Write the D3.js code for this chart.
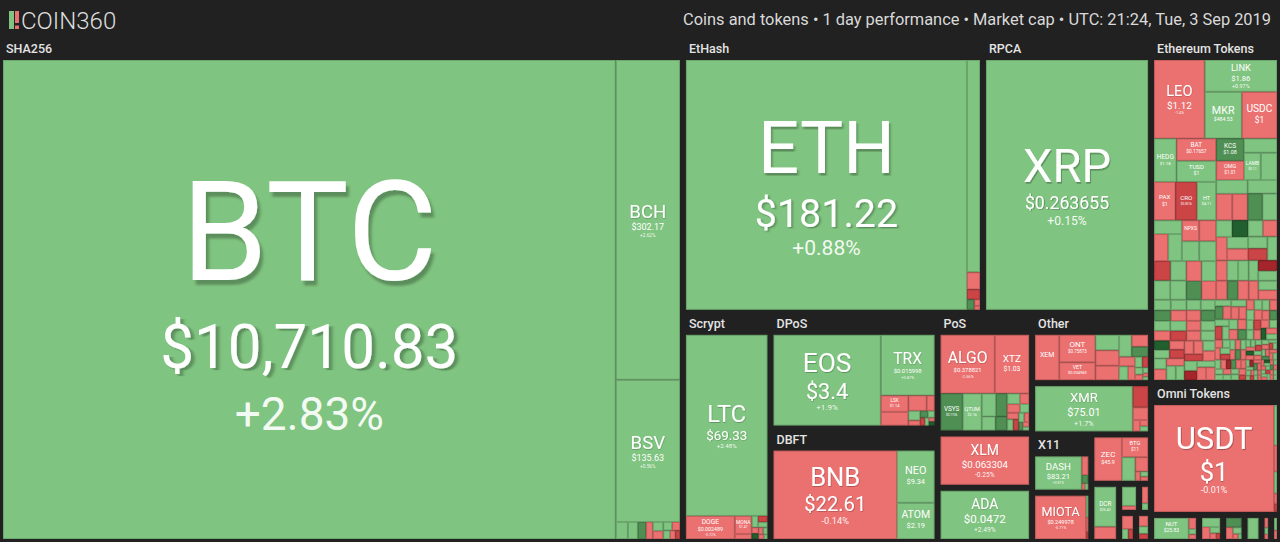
<!DOCTYPE html>
<html>
<head>
<meta charset="utf-8">
<script src="https://cdn.jsdelivr.net/npm/d3@7"></script>
<style>
  html, body { margin: 0; padding: 0; background: #212121; }
  svg { display: block; font-family: Roboto, "Noto Sans", sans-serif; }
</style>
</head>
<body>
<svg id="chart" width="1280" height="542"></svg>
<script>
// coin360 treemap, 3 Sep 2019 - tile weights (area units)

const headerText = 'Coins and tokens \u2022 1 day performance \u2022 Market cap \u2022 UTC: 21:24, Tue, 3 Sep 2019';

// groups that show their name above the tiles
const labeledGroups = ['SHA256', 'EtHash', 'RPCA', 'Scrypt', 'DPoS', 'DBFT', 'PoS', 'Other', 'X11', 'Ethereum Tokens', 'Omni Tokens'];

// how the groups sit next to / under each other
const layoutTree = ['SHA256', [
  [['EtHash', 'RPCA'],
   ['Scrypt', ['DPoS', 'DBFT'], ['PoS', 'SCP', 'Ouroboros'],
    ['Other', 'CryptoNight', [['X11', 'Tangle'], ['Equihash', ['Blake256', [['X13', 'misc-a'], ['misc-b', 'misc-c']]]]]]]],
  ['Ethereum Tokens', 'Omni Tokens', ['omni-a', 'omni-b', 'omni-c', 'omni-d', 'omni-e', 'omni-f']]
]];

// named coins
const coinSymbols = ['BTC', 'BCH', 'BSV', 'ETH', 'ETC', 'XRP', 'LTC', 'DOGE', 'MONA', 'EOS', 'TRX', 'LSK', 'BNB', 'NEO', 'ATOM',
  'ALGO', 'XTZ', 'VSYS', 'QTUM', 'WAVES', 'XLM', 'ADA', 'XEM', 'ONT', 'VET', 'RVN', 'XMR', 'DASH', 'MIOTA', 'ZEC', 'BTG', 'DCR', 'BCD',
  'LEO', 'LINK', 'MKR', 'USDC', 'HEDG', 'BAT', 'TUSD', 'PAX', 'CRO', 'HT', 'KCS', 'OMG', 'LAMB', 'HOT', 'REP', 'DGT', 'NPXS', 'AOA',
  'USDT', 'NUT'];
const coinGroups = ['SHA256', 'SHA256', 'SHA256', 'EtHash', 'EtHash', 'RPCA', 'Scrypt', 'Scrypt', 'Scrypt', 'DPoS', 'DPoS', 'DPoS', 'DBFT', 'DBFT', 'DBFT',
  'PoS', 'PoS', 'PoS', 'PoS', 'PoS', 'SCP', 'Ouroboros', 'Other', 'Other', 'Other', 'Other', 'CryptoNight', 'X11', 'Tangle', 'Equihash', 'Equihash', 'Blake256', 'X13',
  'Ethereum Tokens', 'Ethereum Tokens', 'Ethereum Tokens', 'Ethereum Tokens', 'Ethereum Tokens', 'Ethereum Tokens', 'Ethereum Tokens', 'Ethereum Tokens', 'Ethereum Tokens',
  'Ethereum Tokens', 'Ethereum Tokens', 'Ethereum Tokens', 'Ethereum Tokens', 'Ethereum Tokens', 'Ethereum Tokens', 'Ethereum Tokens', 'Ethereum Tokens', 'Ethereum Tokens',
  'Omni Tokens', 'omni-a'];
const coinWeights = [3115, 218, 97, 788, 31, 462, 178, 13.6, 3.7, 128.8, 43.2, 6.0, 145.3, 26.1, 18.1,
  42.8, 27.2, 11.0, 9.5, 4.4, 51.3, 51.3, 17.9, 16.3, 10.5, 3.2, 52.7, 30.2, 28.0, 15.1, 6.6, 12.4, 4.8,
  44.9, 26.0, 19.6, 18.6, 11.0, 10.0, 9.5, 9.3, 9.3, 8.4, 7.0, 6.0, 5.2, 4.9, 4.4, 4.3, 4.1, 2.6,
  166, 10.7];
const coinPrices = ['$10,710.83', '$302.17', '$135.63', '$181.22', '$7.33', '$0.263655', '$69.33', '$0.002489', '$1.47', '$3.4', '$0.015998', '$1.14',
  '$22.61', '$9.34', '$2.19', '$0.378821', '$1.03', '$0.1736', '$2.16', '$1.26', '$0.063304', '$0.0472', '$0.042061', '$0.75873', '$0.004983',
  '$0.0301', '$75.01', '$83.21', '$0.249978', '$45.9', '$11', '$25.42', '$0.61',
  '$1.12', '$1.86', '$484.53', '$1', '$1.18', '$0.17657', '$1', '$1', '$0.0516', '$4.11', '$1.08', '$1.01', '$0.11', '$0.00085', '$10.15',
  '$0.1', '$0.00058', '$0.0114', '$1', '$25.83'];
const coinChanges = [2.83, 2.62, 0.56, 0.88, 1.05, 0.15, 2.48, -0.72, -0.93, 1.9, 0.87, -1.26, -0.14, 1.18, 1.29,
  -2.56, -1.58, 6.42, 2.05, 1.83, -0.25, 2.49, -1.13, -0.91, -1.47, -1.9, 1.7, 0.87, -0.71, -1.1, -1.72, 1.25, 0.94,
  -1.4, 0.97, 1.12, -0.05, 0.62, -1.21, 0.02, -0.1, -6.5, 1.35, 5.2, -1.6, 1.9, 2.1, 0.8, 1.2, -2.3, -1.8,
  -0.01, 1.5];

// unnamed small tiles, per group
const minorGroups = ['SHA256', 'EtHash', 'Scrypt', 'DPoS', 'PoS', 'Other', 'CryptoNight', 'X11', 'Tangle', 'Equihash', 'Blake256', 'X13',
  'misc-a', 'misc-b', 'misc-c', 'Ethereum Tokens', 'Ethereum Tokens', 'Ethereum Tokens', 'Omni Tokens',
  'omni-a', 'omni-b', 'omni-c', 'omni-d', 'omni-e', 'omni-f'];
const minorWeights = [
  [2.2, 1.8, 1.5, 1.2, 1.0, 0.9, 0.8, 0.7, 0.6, 0.5, 0.4],
  [2.5, 1.46, 0.86, 0.4, 0.25],
  [1.0, 0.9, 0.7, 0.6, 0.5, 0.45, 0.4, 0.35, 0.3, 0.2],
  [5.0, 3.7, 1.6, 1.5, 0.8, 0.7, 0.6, 0.5, 0.4, 0.3, 0.3],
  [3.5, 2.6, 2.2, 1.8, 1.5, 1.3, 1.1, 1.0, 0.9, 0.8, 0.7, 0.6, 0.5, 0.4, 0.3],
  [6.0, 5.9, 4.5, 5.6, 2.7, 2.5, 2.0, 1.6, 1.3, 1.0, 0.9, 0.7, 0.5, 0.3, 0.3],
  [3.9, 2.3, 1.0, 0.6, 0.5],
  [2.4, 1.1, 0.4, 0.4],
  [0.6, 0.4, 0.2],
  [4.0, 2.3, 0.6, 0.5, 0.4],
  [3.8],
  [1.0],
  [2.5, 1.0],
  [2.8, 1.2, 0.9],
  [2.0, 1.4, 1.0],
  [5.3, 4.5, 3.5, 3.5, 2.6],
  [5.0, 4.8, 4.6, 4.5, 4.3, 4.2, 4.0, 3.9, 3.8, 3.6, 3.5, 3.4, 3.3, 3.2, 3.1, 3.0, 3.0, 2.9, 2.8, 2.8,
   2.7, 2.6, 2.6, 2.5, 2.5, 2.4, 2.4, 2.3, 2.3, 2.2, 2.2, 2.1, 2.1, 2.0, 2.0, 2.0, 2.0],
  [1.9, 1.9, 1.8, 1.8, 1.8, 1.8, 1.7, 1.7, 1.7, 1.7, 1.6, 1.6, 1.6, 1.5, 1.5, 1.5, 1.5, 1.4, 1.4, 1.4,
   1.6, 1.6, 1.5, 1.5, 1.5, 1.4, 1.4, 1.4, 1.4, 1.3, 1.3, 1.3, 1.3, 1.2, 1.2, 1.2, 1.2, 1.1, 1.1, 1.1,
   1.1, 1.0, 1.0, 1.0, 1.0, 1.0, 0.9, 0.9, 0.9, 0.9, 0.9, 0.9, 0.8, 0.8, 0.8, 0.8, 0.8, 0.8, 0.8, 0.7,
   0.7, 0.7, 0.7, 0.7, 0.7, 0.7, 0.7, 0.6, 0.6, 0.6, 0.6, 0.6, 0.6, 0.6, 0.6, 0.6, 0.5, 0.5, 0.5, 0.5,
   0.5, 0.5, 0.5, 0.5, 0.5, 0.5, 0.5, 0.4, 0.4, 0.4, 0.4, 0.4, 0.4, 0.4, 0.4, 0.4, 0.4, 0.4, 0.4, 0.3,
   0.3, 0.3, 0.3, 0.3, 0.3, 0.3, 0.3, 0.3, 0.3, 0.3, 0.3, 0.3, 0.3, 0.3, 0.3, 0.2, 0.2, 0.2, 0.2, 0.2,
   0.2, 0.2, 0.2, 0.2, 0.2, 0.2, 0.2, 0.2, 0.2, 0.2, 0.2, 0.2, 0.2, 0.2, 0.2, 0.2, 0.2, 0.2, 0.2, 0.2],
  [1.5, 1.0, 0.8, 0.4, 0.3],
  [1.2, 0.6, 0.5],
  [2.8, 1.6, 1.1, 0.6, 0.4],
  [2.6, 1.4, 1.0, 0.5, 0.3],
  [4.6],
  [1.2, 0.8, 0.6],
  [1.4, 1.0]
];
const minorChanges = [
  [0.9, 1.4, 5.8, -1.2, 0.6, -2.1, 1.1, -0.7, 0.3, -3.5, -8.2],
  [-1.8, -6.2, 9.5, -1.0, -0.5],
  [-1.3, 0.8, -7.1, 1.6, -0.4, 11.2, -2.2, 0.5, -1.0, 3.1],
  [-1.9, -1.4, -0.9, 0.7, -2.1, 6.3, 1.2, -5.8, 0.4, -1.1, 13.0],
  [6.8, 1.4, 7.5, 0.9, -1.2, -2.6, 1.7, -0.8, 0.5, -6.6, 2.2, -1.5, 8.9, -0.3, 1.1],
  [1.2, -1.4, 0.8, -2.3, 6.1, -0.6, 1.5, -1.1, 2.4, -7.3, 0.9, -0.5, 1.3, -0.2, 0.6],
  [-6.8, -1.2, -1.7, -0.4, 0.8],
  [-1.5, 6.9, -0.8, 1.2],
  [0.7, -1.3, -6.1],
  [1.3, -1.9, -0.8, 0.9, -2.4],
  [-1.6],
  [-1.1],
  [-1.2, 0.8],
  [-0.9, 1.1, -6.4],
  [-1.3, 0.6, -5.5],
  [0.9, 1.6, 0.7, 1.1, 0.4],
  [1.2, -1.8, -0.9, 6.1, -2.4, 0.8, -1.1, 1.9, 2.3, -6.2, 0.5, -0.7, 1.4, 7.3, -1.6, 0.9, 12.1, -3.2, 1.1, -0.4,
   2.2, -7.4, 0.6, -1.3, 1.7, 3.1, -0.8, 5.6, -2.1, 0.3, -11.2, 1.5, -0.6, 2.7, -1.9, 0.4, 8.4],
  [1.1, -2.3, 0.6, -0.8, 3.2, -6.4, 1.7, -1.2, 0.4, 7.8, -0.5, -3.1, 2.2, 0.9, -1.6, -8.3, 1.3, 4.1, -0.7, -2.6,
   0.8, 11.4, -1.9, -0.3, 2.9, -5.7, 0.2, -1.4, 1.6, -12.8, 3.7, -0.9, -2.2, 0.5, 6.6, -1.1, 1.9, -4.3, -0.6, 2.4,
   -7.2, 0.7, 1.2, -1.8, -0.4, 9.1, -2.9, 0.3, 1.4, -3.6, 2.6, -0.2, -1.5, 5.4, 0.9, -9.6, 1.8, -0.8, -2.1, 0.6,
   14.2, -1.3, 0.4, -4.8, 2.1, -0.6, 1.1, -6.9, 3.3, -1.7, 0.5, -2.4, 8.2, -0.9, 1.5, -1.2, -13.5, 2.8, 0.7, -3.4,
   1.3, 6.1, -0.5, -2.7, 0.2, 4.4, -1.9, -7.7, 1.6, 0.9, -0.3, 2.3, -5.2, 10.6, -1.1, 0.8, -2.5, 1.2, -0.7, 3.9,
   -8.8, 0.4, 1.7, -1.6, 5.9, -0.2, -3.8, 2.5, 0.6, -11.9, 1.4, -0.9, 7.1, -2.2, 0.3, -1.4, 2.9, -6.3, 1.0, -0.5,
   3.4, -1.7, -0.8, 12.7, 0.6, -4.1, 1.8, -2.9, 0.2, 6.8, -1.2, 0.9, -9.3, 2.0, -0.4, 1.5, -3.3, 4.9, -0.6, 0.7],
  [0.8, -1.1, 1.2, -0.4, -6.2],
  [-1.3, 0.9, -0.7],
  [1.1, -0.9, 0.7, -1.6, -5.8],
  [5.6, -1.2, 0.9, -0.6, 1.4],
  [1.3],
  [-1.4, 0.8, -0.5],
  [0.9, -1.1]
];

// 1 day change -> tile colour
const changeBreaks = [-10, -5, 0, 5, 10];
const changeColors = ['#a4262b', '#cb4446', '#eb7170', '#7fc480', '#4f8f54', '#215f2e'];

const width = 1280, height = 542, mapTop = 38;
const color = d3.scaleThreshold().domain(changeBreaks).range(changeColors);

function buildGroup(key) {
  const children = [];
  coinSymbols.forEach((s, i) => {
    if (coinGroups[i] === key) children.push({ symbol: s, weight: coinWeights[i], price: coinPrices[i], change: coinChanges[i] });
  });
  minorGroups.forEach((g, j) => {
    if (g !== key) return;
    minorWeights[j].forEach((w, k) => children.push({ symbol: '', weight: w, change: minorChanges[j][k] }));
  });
  return { name: key, isGroup: true, label: labeledGroups.includes(key), children };
}
function buildLayout(item) {
  return Array.isArray(item) ? { children: item.map(buildLayout) } : buildGroup(item);
}

const root = d3.hierarchy(buildLayout(layoutTree))
  .sum(d => d.weight || 0)
  .sort((a, b) => (a.parent && a.parent.data.isGroup ? b.value - a.value : 0));

d3.treemap()
  .size([width, height - mapTop])
  .tile((node, x0, y0, x1, y1) => {
    if (node.data.isGroup) d3.treemapBinary(node, x0, y0, x1, y1);
    else (x1 - x0 > y1 - y0 ? d3.treemapDice : d3.treemapSlice)(node, x0, y0, x1, y1);
  })
  .paddingTop(d => (d.data.isGroup ? (d.data.label ? 22 : 3) : 0))
  .paddingRight(d => (d.data.isGroup ? 3 : 0))
  .paddingBottom(d => (d.data.isGroup ? 3 : 0))
  .paddingLeft(d => (d.data.isGroup ? 3 : 0))(root);

const svg = d3.select('#chart');
svg.append('rect').attr('width', width).attr('height', height).attr('fill', '#212121');

const defs = svg.append('defs');
defs.append('filter').attr('id', 'shadow').attr('primitiveUnits', 'objectBoundingBox')
  .attr('x', -0.1).attr('y', -0.2).attr('width', 1.3).attr('height', 1.5)
  .append('feDropShadow').attr('dx', 0.012).attr('dy', 0.03).attr('stdDeviation', 0.006)
  .attr('flood-color', '#000').attr('flood-opacity', 0.28);

// header
const logo = svg.append('g').attr('transform', 'translate(9,11)');
logo.append('rect').attr('width', 5).attr('height', 18).attr('fill', '#7fc480');
logo.append('rect').attr('x', 6).attr('width', 4).attr('height', 12).attr('fill', '#eb7170');
logo.append('rect').attr('x', 6).attr('y', 14.5).attr('width', 4).attr('height', 3.5).attr('fill', '#eb7170');
svg.append('text').attr('x', 21).attr('y', 29).attr('fill', '#dedede')
  .style('font-size', '24px').style('font-weight', 300).text('COIN360');
svg.append('text').attr('x', 1271).attr('y', 25).attr('text-anchor', 'end').attr('fill', '#d9d9d9')
  .style('font-size', '16.4px').text(headerText);

const g = svg.append('g').attr('transform', `translate(0,${mapTop})`);

// tiles
const leaves = root.leaves().filter(d => d.x1 - d.x0 > 0.3 && d.y1 - d.y0 > 0.3);
g.selectAll('rect.tile').data(leaves).join('rect')
  .attr('class', 'tile')
  .attr('x', d => d.x0 + 0.5).attr('y', d => d.y0 + 0.5)
  .attr('width', d => Math.max(0.5, d.x1 - d.x0 - 1)).attr('height', d => Math.max(0.5, d.y1 - d.y0 - 1))
  .attr('fill', d => color(d.data.change))
  .attr('stroke', d => d3.color(color(d.data.change)).darker(0.45))
  .attr('stroke-width', 1);

// coin labels
function textSizes(d) {
  const w = d.x1 - d.x0, h = d.y1 - d.y0, m = Math.min(w, h);
  const n = Math.min(0.29 * m, 0.8 * w / (0.62 * d.data.symbol.length));
  const p = Math.min(0.55 * w / (0.56 * d.data.price.length), 0.24 * m);
  const c = Math.min(0.075 * w, 0.8 * p);
  return { w, h, n, p, c };
}
const named = leaves.filter(d => d.data.symbol && textSizes(d).n >= 4.5);
g.selectAll('g.coin').data(named).join('g').attr('class', 'coin')
  .attr('text-anchor', 'middle').attr('fill', '#fff')
  .each(function (d) {
    const s = textSizes(d);
    const gap1 = 0.2 * s.n + 1.0 * s.p, gap2 = 1.35 * s.c;
    const blockH = 0.72 * s.n + gap1 + gap2;
    const cx = (d.x0 + d.x1) / 2, cy = (d.y0 + d.y1) / 2;
    const b1 = cy - blockH / 2 + 0.76 * s.n;
    const sel = d3.select(this);
    sel.append('text').attr('x', cx).attr('y', b1)
      .style('font-size', `${s.n}px`)
      .attr('filter', s.n > 12 ? 'url(#shadow)' : null).text(d.data.symbol);
    if (s.p >= 3) sel.append('text').attr('x', cx).attr('y', b1 + gap1)
      .style('font-size', `${s.p}px`)
      .attr('filter', s.p > 12 ? 'url(#shadow)' : null).text(d.data.price);
    if (s.c >= 3) sel.append('text').attr('x', cx).attr('y', b1 + gap1 + gap2)
      .style('font-size', `${s.c}px`).attr('fill-opacity', 0.92)
      .text(`${d.data.change > 0 ? '+' : ''}${d.data.change}%`);
  });

// group names
const groups = root.descendants().filter(d => d.data.isGroup && d.data.label);
g.selectAll('text.group').data(groups).join('text')
  .attr('class', 'group')
  .attr('x', d => d.x0 + 6).attr('y', d => d.y0 + 15)
  .attr('fill', '#e4e4e4')
  .style('font-size', '12.5px').style('font-weight', 500)
  .text(d => d.data.name);
</script>
</body>
</html>
